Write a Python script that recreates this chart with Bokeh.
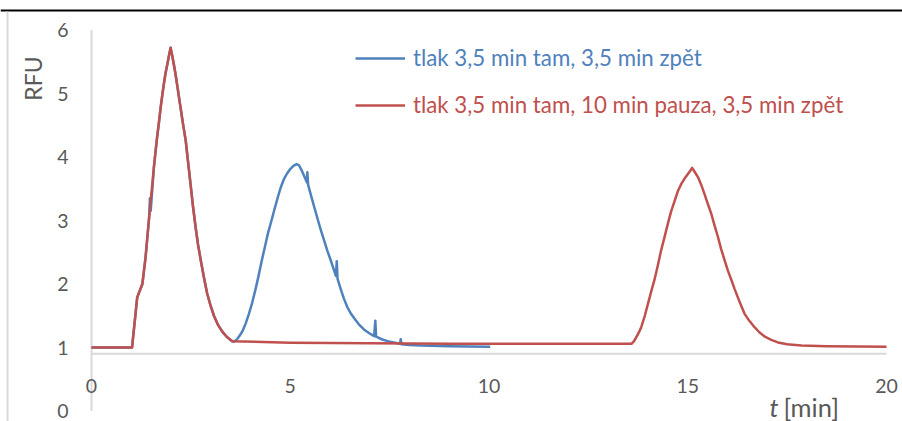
import math
from bokeh.plotting import figure
from bokeh.models import Range1d, Legend, LegendItem, Label, BoxAnnotation
from bokeh.core.properties import value
from bokeh.embed import file_html
from bokeh.resources import INLINE

# ---------------- data ----------------
BLUE_LABEL = "tlak 3,5 min tam, 3,5 min zpět"
RED_LABEL = "tlak 3,5 min tam, 10 min pauza, 3,5 min zpět"

BLUE_T = [0.00, 1.02, 1.15, 1.28, 1.36, 1.45, 1.47, 1.49, 1.57, 1.61, 1.65, 1.70,
          1.74, 1.78, 1.82, 1.86, 1.91, 1.95, 1.99, 2.03, 2.08, 2.12, 2.18, 2.24,
          2.30, 2.37, 2.43, 2.49, 2.55, 2.62, 2.68, 2.75, 2.83, 2.91, 3.00, 3.08,
          3.18, 3.29, 3.40, 3.54, 3.58, 3.65, 3.72, 3.80, 3.88, 3.96, 4.04, 4.12,
          4.20, 4.28, 4.36, 4.44, 4.52, 4.60, 4.68, 4.76, 4.84, 4.92, 5.00, 5.08,
          5.16, 5.22, 5.28, 5.35, 5.42, 5.43, 5.45, 5.52, 5.60, 5.69, 5.77, 5.85,
          5.93, 6.02, 6.10, 6.15, 6.17, 6.19, 6.27, 6.35, 6.44, 6.52, 6.61, 6.72,
          6.86, 7.00, 7.11, 7.14, 7.16, 7.30, 7.45, 7.60, 7.76, 7.78, 7.80, 8.00,
          8.29, 9.00, 10.03]
BLUE_V = [1.00, 1.00, 1.79, 2.00, 2.42, 3.05, 3.35, 3.15, 3.84, 4.08, 4.31, 4.56,
          4.78, 4.97, 5.15, 5.31, 5.47, 5.60, 5.72, 5.60, 5.43, 5.28, 5.03, 4.78,
          4.53, 4.26, 3.92, 3.58, 3.24, 2.89, 2.62, 2.37, 2.10, 1.85, 1.65, 1.50,
          1.36, 1.25, 1.17, 1.10, 1.09, 1.12, 1.18, 1.26, 1.38, 1.53, 1.70, 1.90,
          2.12, 2.36, 2.58, 2.80, 2.98, 3.17, 3.35, 3.52, 3.65, 3.74, 3.81, 3.86,
          3.89, 3.87, 3.80, 3.70, 3.60, 3.76, 3.56, 3.40, 3.22, 3.02, 2.85, 2.69,
          2.53, 2.37, 2.22, 2.13, 2.36, 2.08, 1.92, 1.77, 1.63, 1.54, 1.46, 1.37,
          1.28, 1.22, 1.18, 1.42, 1.17, 1.13, 1.10, 1.08, 1.06, 1.13, 1.05, 1.04,
          1.03, 1.02, 1.01]

RED_T = [0.00, 1.02, 1.15, 1.28, 1.36, 1.45, 1.57, 1.61, 1.65, 1.70, 1.74, 1.78,
         1.82, 1.86, 1.91, 1.95, 1.99, 2.03, 2.08, 2.12, 2.18, 2.24, 2.30, 2.37,
         2.43, 2.49, 2.55, 2.62, 2.68, 2.75, 2.83, 2.91, 3.00, 3.08, 3.18, 3.29,
         3.40, 3.54, 5.00, 7.00, 9.00, 13.59, 13.65, 13.72, 13.78, 13.83, 13.92,
         14.00, 14.08, 14.16, 14.25, 14.33, 14.42, 14.50, 14.58, 14.67, 14.75,
         14.84, 14.92, 14.99, 15.05, 15.11, 15.18, 15.26, 15.34, 15.42, 15.50,
         15.59, 15.67, 15.76, 15.84, 15.93, 16.01, 16.10, 16.18, 16.26, 16.35,
         16.43, 16.55, 16.68, 16.80, 16.94, 17.10, 17.27, 17.50, 17.86, 18.50, 20.00]
RED_V = [1.00, 1.00, 1.79, 2.00, 2.42, 3.05, 3.84, 4.08, 4.31, 4.56, 4.78, 4.97,
         5.15, 5.31, 5.47, 5.60, 5.72, 5.60, 5.43, 5.28, 5.03, 4.78, 4.53, 4.26,
         3.92, 3.58, 3.24, 2.89, 2.62, 2.37, 2.10, 1.85, 1.65, 1.50, 1.36, 1.25,
         1.17, 1.10, 1.075, 1.065, 1.06, 1.06, 1.10, 1.18, 1.25, 1.32, 1.50,
         1.69, 1.88, 2.06, 2.30, 2.53, 2.75, 2.95, 3.14, 3.31, 3.46,
         3.58, 3.66, 3.72, 3.77, 3.83, 3.76, 3.68, 3.56, 3.42, 3.27,
         3.11, 2.93, 2.74, 2.55, 2.37, 2.21, 2.06, 1.92, 1.79, 1.65,
         1.53, 1.42, 1.32, 1.24, 1.17, 1.12, 1.08, 1.05, 1.03, 1.02, 1.01]

X_TICKS = [0, 5, 10, 15, 20]
Y_TICKS = [0, 1, 2, 3, 4, 5, 6]
X_AXIS_AT = 0.9          # value of y where the horizontal axis crosses
Y_LABEL = "RFU"
X_LABEL_T = "t"
X_LABEL_REST = "[min]"

# ---------------- layout / style ----------------
W, H = 902, 421
X0_PX = 91.0        # canvas x of t = 0
PX_PER_X = 39.75
Y0_PX = 410.5       # canvas y of value 0
PX_PER_Y = 63.5

FONT = "Lato"
FS_TICK = "19.5px"
FS_LEG = "22.3px"
FS_YT = "23px"
FS_XT = "25.5px"
TXT = "#595959"
BLUE = "#4F81BD"
RED = "#C0504D"
AXIS = "#D9D9D9"

p = figure(width=W, height=H, output_backend="svg", toolbar_location=None,
           title=None, x_axis_location=None, y_axis_location=None,
           x_range=Range1d(-X0_PX / PX_PER_X, (W - X0_PX) / PX_PER_X),
           y_range=Range1d(-(H - Y0_PX) / PX_PER_Y, Y0_PX / PX_PER_Y),
           min_border_left=0, min_border_right=0, min_border_top=0, min_border_bottom=0)
p.grid.visible = False
p.outline_line_color = None
p.background_fill_color = "white"
p.border_fill_color = "white"

# axes lines
p.line(x=[0, 0], y=[Y_TICKS[0], Y_TICKS[-1]], line_color=AXIS, line_width=2)
p.line(x=[X_TICKS[0], X_TICKS[-1]], y=[X_AXIS_AT, X_AXIS_AT], line_color=AXIS, line_width=2)

# tick labels
p.text(x=[0] * len(Y_TICKS), y=Y_TICKS, text=[str(v) for v in Y_TICKS],
       x_offset=-23, text_align="right", text_baseline="middle",
       text_font=value(FONT), text_font_size=FS_TICK, text_color=TXT)
p.text(x=X_TICKS, y=[X_AXIS_AT] * len(X_TICKS), text=[str(v) for v in X_TICKS],
       y_offset=32, text_align="center", text_baseline="middle",
       text_font=value(FONT), text_font_size=FS_TICK, text_color=TXT)

# series
rb = p.line(BLUE_T, BLUE_V, line_color=BLUE, line_width=2.5, line_join="round")
rr = p.line(RED_T, RED_V, line_color=RED, line_width=2.5, line_join="round")

# legends (one per item so each label has its series colour)
for r, lab, col, y in ((rb, BLUE_LABEL, BLUE, H - 71), (rr, RED_LABEL, RED, H - 118)):
    lg = Legend(items=[LegendItem(label=lab, renderers=[r])], location=(355, y),
                glyph_width=50, glyph_height=20, label_height=20, label_standoff=8,
                padding=0, margin=0, spacing=0,
                border_line_color=None, background_fill_alpha=0,
                label_text_font=FONT, label_text_font_size=FS_LEG, label_text_color=col)
    p.add_layout(lg)

# axis titles
p.add_layout(Label(x=32, y=H - 78, x_units="screen", y_units="screen", text=Y_LABEL,
                   angle=math.pi / 2, text_align="center", text_baseline="middle",
                   text_font=FONT, text_font_size=FS_YT, text_color=TXT))
p.add_layout(Label(x=769, y=H - 406, x_units="screen", y_units="screen", text=X_LABEL_T,
                   text_align="left", text_baseline="middle", text_font_style="italic",
                   text_font=FONT, text_font_size=FS_XT, text_color=TXT))
p.add_layout(Label(x=783, y=H - 406, x_units="screen", y_units="screen", text=X_LABEL_REST,
                   text_align="left", text_baseline="middle",
                   text_font=FONT, text_font_size=FS_XT, text_color=TXT))

# page frame lines (document border + chart area border)
p.add_layout(BoxAnnotation(left=0, right=W, top=H - 9, bottom=H - 11,
                           left_units="screen", right_units="screen",
                           top_units="screen", bottom_units="screen",
                           fill_color="black", fill_alpha=1, line_color=None))
p.add_layout(BoxAnnotation(left=6, right=8, top=H - 11, bottom=0,
                           left_units="screen", right_units="screen",
                           top_units="screen", bottom_units="screen",
                           fill_color=AXIS, fill_alpha=1, line_color=None))

open("out.html", "w").write(file_html(p, INLINE))
